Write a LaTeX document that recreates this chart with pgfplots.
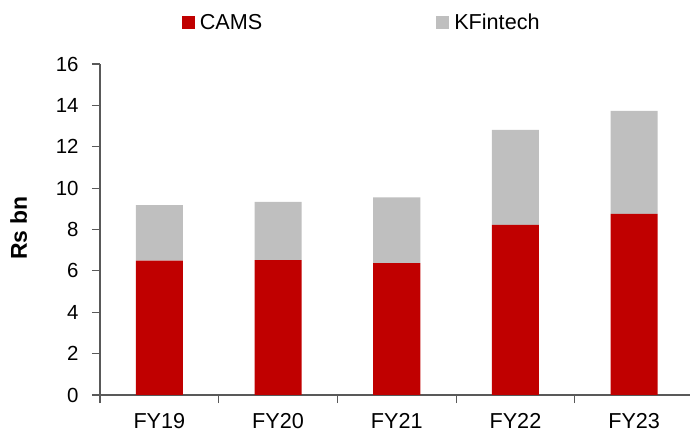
\documentclass[border=0pt]{standalone}
\usepackage{pgfplots}
\pgfplotsset{compat=1.18}
\usepackage{fontspec}
\setmainfont{Liberation Sans}
\definecolor{camsred}{HTML}{C00000}
\definecolor{kfgrey}{HTML}{BFBFBF}
\definecolor{axisgrey}{HTML}{595959}
\begin{document}
\begin{tikzpicture}
\path[use as bounding box] (0bp,0bp) rectangle (690bp,439bp);
\begin{axis}[
  at={(100bp,44bp)}, anchor=south west,
  scale only axis, width=593.5bp, height=331bp,
  ybar stacked, bar width=47bp,
  xmin=-0.5, xmax=4.5, ymin=0, ymax=16,
  axis lines*=left,
  axis line style={draw=axisgrey, line width=1.3bp},
  ytick={0,2,...,16},
  xtick={-0.5,0.5,1.5,2.5,3.5,4.5},
  xticklabels={},
  extra x ticks={0,1,2,3,4},
  extra x tick labels={FY19,FY20,FY21,FY22,FY23},
  extra x tick style={major tick length=0pt},
  tick align=outside,
  major tick length=8bp,
  every tick/.style={draw=axisgrey, line width=1.1bp},
  y tick label style={xshift=-10bp, font=\fontsize{20.5}{24}\selectfont},
  x tick label style={yshift=-15bp, font=\fontsize{21.7}{25}\selectfont},
  tick label style={text=black},
  /pgf/number format/assume math mode=true,
  ylabel={Rs bn},
  ylabel style={at={(axis description cs:-0.137,0.505)}, anchor=center, font=\bfseries\fontsize{23}{26}\selectfont},
  legend style={at={(axis description cs:0.441,1.125)}, anchor=center, draw=none, fill=none,
    font=\fontsize{21.7}{25}\selectfont, legend columns=2,
    /tikz/every odd column/.append style={column sep=3bp},
    /tikz/every even column/.append style={column sep=172bp}},
  legend image code/.code={\fill[#1] (0bp,-6.5bp) rectangle (13bp,6.5bp);},
  legend cell align=left,
]
\addplot[fill=camsred, draw=none] coordinates {(0,6.49) (1,6.52) (2,6.38) (3,8.22) (4,8.75)};
\addlegendentry{CAMS}
\addplot[fill=kfgrey, draw=none] coordinates {(0,2.69) (1,2.81) (2,3.17) (3,4.59) (4,4.98)};
\addlegendentry{KFintech}
\end{axis}
\end{tikzpicture}
\end{document}
